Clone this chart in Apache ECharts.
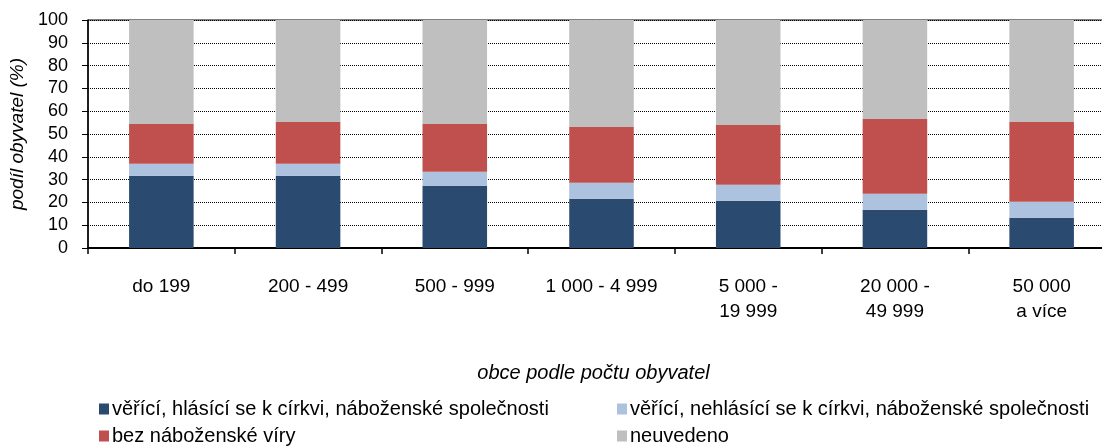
<!DOCTYPE html>
<html><head><meta charset="utf-8">
<script src="https://cdn.jsdelivr.net/npm/echarts@6/dist/echarts.min.js"></script>
<style>html,body{margin:0;padding:0;background:#fff}#c{width:1102px;height:448px}</style>
</head><body><div id="c"></div>
<script>
const categories = ['do 199', '200 - 499', '500 - 999', '1 000 - 4 999', '5 000 -\n19 999', '20 000 -\n49 999', '50 000\na více'];
const seriesNames = ['věřící, hlásící se k církvi, náboženské společnosti', 'věřící, nehlásící se k církvi, náboženské společnosti', 'bez náboženské víry', 'neuvedeno'];
const believersChurch = [31.7, 31.7, 27.3, 21.6, 20.7, 16.8, 13.3];
const believersNoChurch = [5.2, 5.2, 6.1, 7.0, 7.0, 7.0, 7.0];
const noReligion = [17.5, 18.4, 21.0, 24.5, 26.3, 32.8, 35.0];
const notStated = [45.6, 44.7, 45.6, 46.9, 46.0, 43.4, 44.7];
const yTicks = [0, 10, 20, 30, 40, 50, 60, 70, 80, 90, 100];

const colors = ['#2B4A6F', '#ADC2DF', '#C0504D', '#BFBFBF'];
const font = 'Liberation Sans, Arial, sans-serif';
const dataSets = [believersChurch, believersNoChurch, noReligion, notStated];

const legendPos = [[99, 399], [617, 399], [99, 426], [617, 426]];
const chart = echarts.init(document.getElementById('c'));
chart.setOption({
  animation: false,
  textStyle: { fontFamily: font, color: '#000' },
  grid: { left: 88, top: 20, bottom: 200, right: -13, outerBoundsMode: 'none', containLabel: false,
    show: true, borderColor: '#000', borderWidth: 1, backgroundColor: 'transparent' },
  legend: seriesNames.map((n, i) => ({
    left: legendPos[i][0], top: legendPos[i][1], padding: 0, itemWidth: 10, itemHeight: 11, icon: 'rect',
    textStyle: { fontFamily: font, fontSize: 20, color: '#000', padding: [6, 0, 0, -2] }, data: [n]
  })),
  xAxis: {
    type: 'category', data: categories,
    name: 'obce podle počtu obyvatel', nameLocation: 'middle', nameGap: 115,
    nameTextStyle: { fontFamily: font, fontSize: 20, fontStyle: 'italic', color: '#000', align: 'center', padding: [0, 16, 0, 0] },
    axisLine: { lineStyle: { color: '#000', width: 2 } },
    axisTick: { show: true, length: 6, lineStyle: { color: '#000', width: 1.5 } },
    axisLabel: { fontFamily: font, fontSize: 19, color: '#000', margin: 26, lineHeight: 25 }
  },
  yAxis: {
    type: 'value', min: 0, max: 100, interval: 10,
    name: 'podíl obyvatel (%)', nameLocation: 'middle', nameGap: 52, nameRotate: 90,
    nameTextStyle: { fontFamily: font, fontSize: 19, fontStyle: 'italic', color: '#000' },
    axisLine: { show: true, lineStyle: { color: '#000', width: 1.5 } },
    axisTick: { show: true, length: 6, lineStyle: { color: '#000' } },
    axisLabel: { fontFamily: font, fontSize: 18, color: '#000', margin: 20,
      formatter: v => yTicks.includes(v) ? String(v) : '' },
    splitLine: { show: true, lineStyle: { color: '#000', width: 1, type: [1, 1] } }
  },
  series: dataSets.map((d, i) => ({
    name: seriesNames[i], type: 'bar', stack: 'total', data: d, barWidth: '44%',
    itemStyle: { color: colors[i] }
  }))
});
</script></body></html>
